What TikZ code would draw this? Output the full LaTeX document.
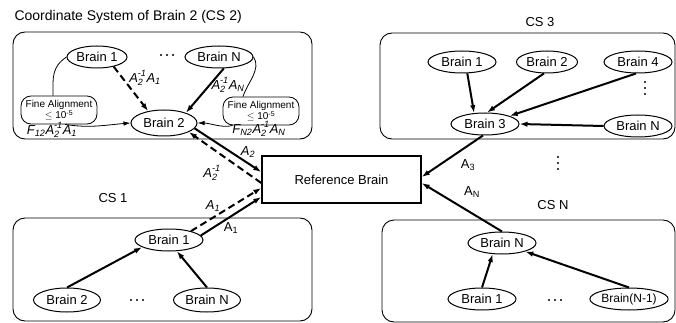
\documentclass[tikz,border=0pt]{standalone}
\usepackage{amsmath}
\usepackage{fontspec}
\setmainfont{Liberation Sans}
\usetikzlibrary{shapes.geometric,arrows.meta}

% italic text for the matrix labels
\newcommand{\ai}[1]{\textit{#1}}

\begin{document}
\begin{tikzpicture}[x=1pt,y=-1pt,
  font=\fontsize{13}{15}\selectfont,
  brain/.style={ellipse, draw, line width=1pt, inner sep=0pt, minimum width=68pt, minimum height=22pt},
  csbox/.style={draw, line width=0.9pt, rounded corners=12pt},
  finebox/.style={draw, line width=0.8pt, rounded corners=10pt, align=center, font=\fontsize{10}{10.5}\selectfont, minimum width=76pt, minimum height=28pt, inner sep=1pt},
  refbox/.style={draw, line width=1.4pt, minimum width=159pt, minimum height=47pt},
  link/.style={line width=2pt, -{Latex[length=8pt,width=5.5pt]}},
  dlink/.style={link, dash pattern=on 7pt off 4pt},
  thinlink/.style={line width=0.8pt, -{Latex[length=7pt,width=4.5pt]}},
  lab/.style={inner sep=0pt}
]
\useasboundingbox (0,0) rectangle (676,323);

% the reference brain
\node[refbox] (ref) at (341.5,179.5) {Reference Brain};

% CS 2
\node[anchor=west, font=\fontsize{14}{16}\selectfont] (title) at (11,17) {Coordinate System of Brain 2 (CS 2)};
\node[csbox, minimum width=299pt, minimum height=107pt] (cs2) at (162.5,85.5) {};
\node[brain, minimum width=60pt] (cs2b1) at (97,57) {Brain 1};
\node[brain] (cs2bN) at (219,57) {Brain N};
\node[finebox] (fal) at (59,110) {Fine Alignment\\$\leq$ 10\textsuperscript{-5}};
\node[finebox] (far) at (261,111) {Fine Alignment\\$\leq$ 10\textsuperscript{-5}};
\node[brain, minimum width=66pt, minimum height=26pt] (cs2b2) at (164,123) {Brain 2};

\draw[line width=0.8pt] (cs2b1.west) .. controls +(-15,10) and +(0,-18) .. ([xshift=-6pt]fal.north);
\draw[thinlink] ([xshift=6pt]fal.south) .. controls +(25,4) and +(-25,2) .. (cs2b2.west);
\draw[line width=0.8pt] (cs2bN.east) .. controls +(8,12) and +(5,-15) .. ([xshift=-18pt]far.north);
\draw[thinlink] ([xshift=10pt]far.south west) .. controls +(-10,3) and +(12,0) .. (cs2b2.east);
\draw[dlink] (cs2b1.-30) -- (cs2b2.143);
\draw[link] (cs2bN.-67) -- (cs2b2.25);

\node[lab] (l21) at (145,78) {$\ai{A}^{\ai{-1}}_{\ai{2}}\ai{A}_{\ai{1}}$};
\node[lab] (l2N) at (228,85) {$\ai{A}^{\ai{-1}}_{\ai{2}}\ai{A}_{\ai{N}}$};
\node[lab] (lf1) at (52,130) {$\ai{F}_{\ai{12}}\ai{A}^{\ai{-1}}_{\ai{2}}\ai{A}_{\ai{1}}$};
\node[lab] (lfN) at (259,129) {$\ai{F}_{\ai{N2}}\ai{A}^{\ai{-1}}_{\ai{2}}\ai{A}_{\ai{N}}$};

% CS 2 <-> reference
\draw[link] (cs2b2.-10) -- ([yshift=7.5pt]ref.west);
\draw[dlink] ([yshift=-3.5pt]ref.west) -- (cs2b2.-20);
\node[lab] (la2) at (248,152) {$\ai{A}_{\ai{2}}$};
\node[lab] (la2i) at (212,173) {$\ai{A}^{\ai{-1}}_{\ai{2}}$};

% CS 1
\node (cs1lab) at (113,198) {CS 1};
\node[csbox, minimum width=299pt, minimum height=103pt] (cs1) at (162.5,269.5) {};
\node[brain] (cs1b1) at (169,240) {Brain 1};
\node[brain, minimum width=67pt, minimum height=24pt] (cs1b2) at (67,300) {Brain 2};
\node[brain, minimum width=67pt, minimum height=24pt] (cs1bN) at (207,300) {Brain N};
\draw[link] (cs1b2.north) -- (cs1b1.195);
\draw[link] (cs1bN.north) -- (cs1b1.-55);
\draw[dlink] (cs1b1.22) -- ([yshift=-8.5pt]ref.west);
\draw[link] (cs1b1.8) -- ([yshift=-17.5pt]ref.west);
\node[lab] (la1i) at (213,206) {$\ai{A}_{\ai{1}}$};
\node[lab] (la1) at (231,228) {A\textsubscript{1}};

% CS 3
\node (cs3lab) at (540,22) {CS 3};
\node[csbox, minimum width=295pt, minimum height=106pt] (cs3) at (527.5,86) {};
\node[brain] (cs3b1) at (462,62) {Brain 1};
\node[brain, minimum width=61pt] (cs3b2) at (547,62) {Brain 2};
\node[brain] (cs3b4) at (638,62) {Brain 4};
\node[brain] (cs3b3) at (485,124) {Brain 3};
\node[brain] (cs3bN) at (638,126) {Brain N};
\foreach \src/\dst in {cs3b1.-65/cs3b3.135, cs3b2.-105/cs3b3.80, cs3b4.-100/cs3b3.18, cs3bN.west/cs3b3.east}
  \draw[link] (\src) -- (\dst);
\draw[link] (cs3b3.-100) -- ([yshift=2.5pt]ref.east);
\node[lab] (la3) at (468,165) {A\textsubscript{3}};

% CS N
\node (csNlab) at (553,205) {CS N};
\node[csbox, minimum width=293pt, minimum height=102pt] (csN) at (528.5,271) {};
\node[brain] (csNbN) at (502,243) {Brain N};
\node[brain] (csNb1) at (482,299) {Brain 1};
\node[brain, minimum width=72pt, font=\fontsize{12}{14}\selectfont] (csNbN1) at (629,299) {Brain(N-1)};
\draw[link] (csNb1.north) -- (csNbN.-130);
\draw[link] (csNbN1.north) -- (csNbN.-20);
\draw[link] (csNbN.north) -- ([yshift=-3.5pt]ref.east);
\node[lab] (laN) at (472,192) {A\textsubscript{N}};

% the dots
\foreach \x/\y in {161/55, 167/55, 173/55, 131/300, 137/300, 143/300, 549/300, 555/300, 561/300}
  \fill (\x,\y) circle (1.2pt);
\foreach \x/\y in {645/82, 645/88, 645/94, 558/157, 558/163, 558/169}
  \fill (\x,\y) circle (1.2pt);

\end{tikzpicture}
\end{document}
